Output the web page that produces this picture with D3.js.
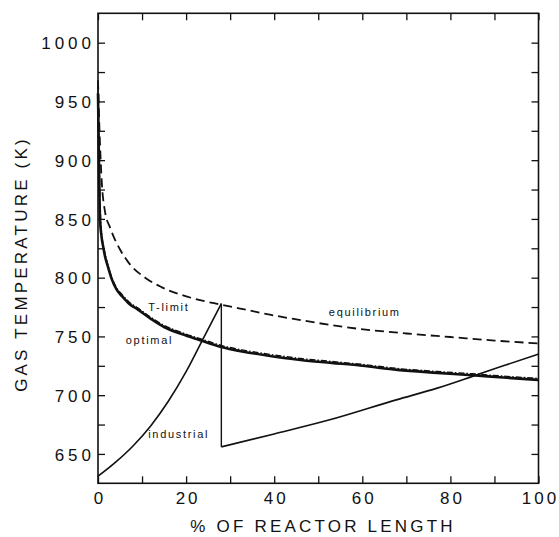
<!DOCTYPE html>
<html>
<head>
<meta charset="utf-8">
<script src="https://cdn.jsdelivr.net/npm/d3@7"></script>
<style>
  html, body { margin: 0; padding: 0; background: #fff; }
  svg { display: block; font-family: "Liberation Sans", Arial, Helvetica, sans-serif; }
  .tick-label { font-size: 17px; letter-spacing: 4px; fill: #111; }
  .tick-label-x { font-size: 17px; letter-spacing: 3px; fill: #111; }
  .axis-title { font-size: 17px; letter-spacing: 3.2px; fill: #111; }
  .curve-label { font-size: 11px; letter-spacing: 1.7px; fill: #111; }
</style>
</head>
<body>
<svg id="chart"></svg>
<script>
// ─── Data ─────────────────────────────────────────────────────────────────────
const equilibriumX = [0, 0.3, 0.8, 1.6, 2.7, 3.9, 5, 6.9, 10.7, 14.4, 22, 28, 34.5, 39, 45, 57, 70, 80, 90, 100];
const equilibriumT = [968, 930, 885, 856, 843, 832, 824, 813, 800, 792, 782, 777, 772, 768.5, 764.5, 757.5, 752.5, 749.5, 746.5, 744];

const optimalX = [0, 0.1, 0.25, 0.45, 0.8, 1.2, 1.6, 2.2, 3.1, 4.2, 5.5, 7, 9, 12, 15, 19, 23, 28, 33, 38, 46, 53, 60, 68, 77, 85, 92, 100];
const optimalT = [957, 930, 890, 850, 835, 826, 818, 810, 799, 790, 784, 778, 773, 765, 758, 752, 747, 741, 737, 734, 730, 727.5, 725, 721.5, 719, 717, 715, 713];

const tlimitX = [0, 0.15, 0.35, 0.6, 1, 1.5, 2.2, 3.1, 4.2, 5.5, 7, 9, 12, 15, 19, 23, 28, 33, 38, 46, 53, 60, 68, 77, 85, 92, 100];
const tlimitT = [962, 925, 885, 851, 832, 822, 811.5, 800.5, 791.5, 785.5, 779.5, 774.3, 766.3, 759.3, 753.3, 748.3, 742.3, 738.3, 735.3, 731.2, 728.7, 726.2, 722.7, 720.2, 718.2, 716.2, 714.3];

// Industrial: pre-heated rise, quench at 28 %, then second bed.
const industrialX1 = [0, 4, 8, 12, 16, 20, 24, 28];
const industrialT1 = [631, 643, 657, 674, 695, 720, 749, 778];
const industrialX2 = [28, 40, 52.6, 67.7, 77, 85, 92, 100];
const industrialT2 = [656, 667, 679, 696, 706, 716, 725, 735];

const xTicks      = [0, 20, 40, 60, 80, 100];
const xMinorTicks = [10, 30, 50, 70, 90];
const yTicks      = [650, 700, 750, 800, 850, 900, 950, 1000];
const yMinorTicks = [675, 725, 775, 825, 875, 925, 975];

const curveLabels = [
  { text: "T-limit",     x: 11.4, t: 771.5 },
  { text: "optimal",     x: 6.3,  t: 743.5 },
  { text: "industrial",  x: 11.4, t: 663.5 },
  { text: "equilibrium", x: 52.4, t: 767.5 }
];

// ─── Layout ───────────────────────────────────────────────────────────────────
const W = 559, H = 537;
const plot = { left: 98, right: 538.5, top: 13.3, bottom: 483.3 };

const svg = d3.select("#chart").attr("width", W).attr("height", H);
svg.append("rect").attr("width", W).attr("height", H).attr("fill", "#fff");

const x = d3.scaleLinear().domain([0, 100]).range([plot.left, plot.right]);
const y = d3.scaleLinear().domain([625, 1025]).range([plot.bottom, plot.top]);

const zip = (xs, ts) => xs.map((v, i) => [v, ts[i]]);
const smooth = d3.line().x(d => x(d[0])).y(d => y(d[1])).curve(d3.curveMonotoneX);

// ─── Axes (ticks point inward on all four sides) ──────────────────────────────
const tickLen = 7;
function styleAxis(g) {
  g.select(".domain").remove();
  g.selectAll(".tick line").attr("stroke", "#111").attr("stroke-width", 1.3);
}

svg.append("g")
  .attr("transform", `translate(0,${plot.bottom})`)
  .call(d3.axisBottom(x).tickValues(xTicks).tickSize(-tickLen).tickPadding(10).tickFormat(d3.format("d")))
  .call(styleAxis)
  .call(g => g.selectAll("text").attr("class", "tick-label-x").attr("font-size", null)
    .attr("font-family", null).attr("dx", 1.5).attr("y", 20.5).attr("dy", 0));

svg.append("g")
  .attr("transform", `translate(0,${plot.bottom})`)
  .call(d3.axisBottom(x).tickValues(xMinorTicks).tickSize(-tickLen).tickFormat(""))
  .call(styleAxis);

svg.append("g")
  .attr("transform", `translate(0,${plot.top})`)
  .call(d3.axisTop(x).tickValues(xTicks.concat(xMinorTicks)).tickSize(-tickLen).tickFormat(""))
  .call(styleAxis);

svg.append("g")
  .attr("transform", `translate(${plot.left},0)`)
  .call(d3.axisLeft(y).tickValues(yTicks).tickSize(-tickLen).tickPadding(3).tickFormat(d3.format("d")))
  .call(styleAxis)
  .call(g => g.selectAll("text").attr("class", "tick-label").attr("font-size", null)
    .attr("font-family", null).attr("dy", "0.36em"));

svg.append("g")
  .attr("transform", `translate(${plot.left},0)`)
  .call(d3.axisLeft(y).tickValues(yMinorTicks).tickSize(-tickLen).tickFormat(""))
  .call(styleAxis);

svg.append("g")
  .attr("transform", `translate(${plot.right},0)`)
  .call(d3.axisRight(y).tickValues(yTicks.concat(yMinorTicks)).tickSize(-tickLen).tickFormat(""))
  .call(styleAxis);

// Frame
svg.append("rect")
  .attr("x", plot.left).attr("y", plot.top)
  .attr("width", plot.right - plot.left).attr("height", plot.bottom - plot.top)
  .attr("fill", "none").attr("stroke", "#111").attr("stroke-width", 1.6);

// ─── Curves ───────────────────────────────────────────────────────────────────
svg.append("path")
  .attr("d", smooth(zip(equilibriumX, equilibriumT)))
  .attr("fill", "none").attr("stroke", "#111").attr("stroke-width", 1.8)
  .attr("stroke-dasharray", "9,5");

svg.append("path")
  .attr("d", smooth(zip(optimalX, optimalT)))
  .attr("fill", "none").attr("stroke", "#111").attr("stroke-width", 2.6);

svg.append("path")
  .attr("d", smooth(zip(tlimitX, tlimitT)))
  .attr("fill", "none").attr("stroke", "#111").attr("stroke-width", 1.4)
  .attr("stroke-dasharray", "6,2,1.5,2");

const ind1 = zip(industrialX1, industrialT1);
const ind2 = zip(industrialX2, industrialT2);
svg.append("path")
  .attr("d", smooth(ind1))
  .attr("fill", "none").attr("stroke", "#111").attr("stroke-width", 1.6);
svg.append("path")
  .attr("d", d3.line().x(d => x(d[0])).y(d => y(d[1]))([ind1[ind1.length - 1], ind2[0]]))
  .attr("fill", "none").attr("stroke", "#111").attr("stroke-width", 1.4);
svg.append("path")
  .attr("d", smooth(ind2))
  .attr("fill", "none").attr("stroke", "#111").attr("stroke-width", 1.6);

// ─── Labels ───────────────────────────────────────────────────────────────────
svg.selectAll("text.curve-label")
  .data(curveLabels)
  .join("text")
  .attr("class", "curve-label")
  .attr("x", d => x(d.x))
  .attr("y", d => y(d.t))
  .text(d => d.text);

svg.append("text")
  .attr("class", "axis-title")
  .attr("x", 323).attr("y", 531.5)
  .attr("text-anchor", "middle")
  .text("% OF REACTOR LENGTH");

svg.append("text")
  .attr("class", "axis-title")
  .attr("transform", "translate(27,264) rotate(-90)")
  .attr("text-anchor", "middle")
  .text("GAS TEMPERATURE (K)");
</script>
</body>
</html>
